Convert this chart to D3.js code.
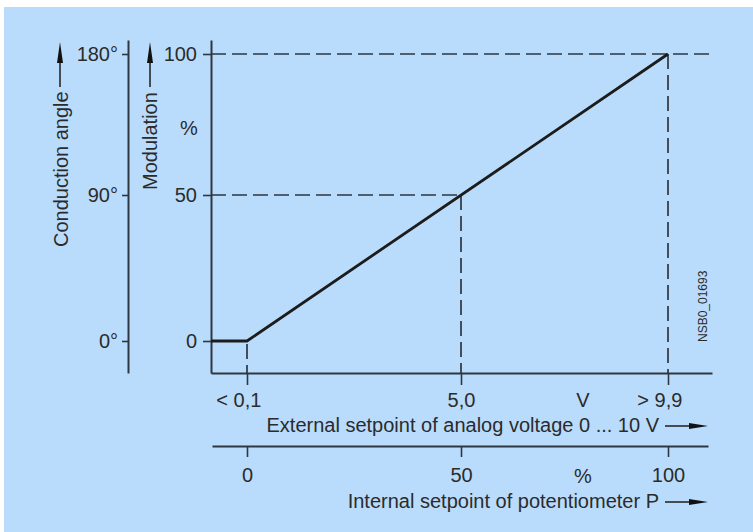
<!DOCTYPE html>
<html>
<head>
<meta charset="utf-8">
<script src="https://cdn.jsdelivr.net/npm/d3@7"></script>
<style>
  html, body { margin: 0; padding: 0; background: #ffffff; }
  svg { display: block; }
  text { font-family: "Liberation Sans", Arial, Helvetica, sans-serif; fill: #2b2b2b; }
</style>
</head>
<body>
<svg id="chart" width="753" height="532"></svg>
<script>
// ---- data ----
const potTicks = [0, 50, 100];                        // internal setpoint (%)
const potLabels = ["0", "50", "100"];
const voltTicks = [0, 50, 100];                       // same positions, voltage labels
const voltPrefix = ["< ", "", "> "];
const voltNumbers = ["0,1", "5,0", "9,9"];
const modTicks = [0, 50, 100];                        // modulation (%)
const angleTicks = [0, 90, 180];                      // conduction angle (deg)
const angleLabels = ["0°", "90°", "180°"];
const curveSetpoint = [-8.5, 0, 100];                 // characteristic: setpoint %
const curveModulation = [0, 0, 100];                  // characteristic: modulation %
const refLevels = [50, 100];                          // dashed guide levels

// ---- layout ----
const svg = d3.select("#chart");
const ink = "#2e3640";
svg.append("rect").attr("x", 4).attr("y", 7).attr("width", 749).attr("height", 525).attr("fill", "#badcfc");

const x = d3.scaleLinear().domain([-8.5, 0, 50, 100, 110.5]).range([211, 247, 461, 668, 712]);
const y = d3.scaleLinear().domain([-11, 0, 50, 100, 105]).range([373, 341, 195, 54, 40]);
const yAng = d3.scaleLinear().domain([-19.8, 0, 90, 180, 189]).range([373, 341, 195, 54, 40]);

function styleAxis(g, w) {
  g.attr("font-size", null).attr("font-family", null);
  g.selectAll(".domain").attr("stroke", ink).attr("stroke-width", w);
  g.selectAll(".tick line").attr("stroke", ink).attr("stroke-width", 1.6);
  g.selectAll(".tick text").style("font-size", "20px").attr("fill", "#2b2b2b");
}

// dashed guides
const dash = "15,6";
const guides = svg.append("g").attr("stroke", ink).attr("stroke-width", 1.7).attr("stroke-dasharray", dash).attr("fill", "none");
guides.append("line").attr("x1", x(-8.5)).attr("x2", 710).attr("y1", y(100)).attr("y2", y(100));
guides.append("line").attr("x1", x(-8.5)).attr("x2", x(50)).attr("y1", y(50)).attr("y2", y(50));
potTicks.forEach(v => {
  const m = v === 0 ? 0 : v;
  guides.append("line").attr("x1", x(v)).attr("x2", x(v)).attr("y1", y(m) + (v === 0 ? 3 : 0)).attr("y2", y(-11));
});

// left angle axis
const gAng = svg.append("g").attr("transform", "translate(128,0)")
  .call(d3.axisLeft(yAng).tickValues(angleTicks).tickSize(6).tickSizeOuter(0).tickPadding(4)
    .tickFormat((d, i) => angleLabels[i]));
styleAxis(gAng, 2);

// modulation axis
const gMod = svg.append("g").attr("transform", "translate(211,0)")
  .call(d3.axisLeft(y).tickValues(modTicks).tickSize(8).tickSizeOuter(0).tickPadding(6));
styleAxis(gMod, 2);

// voltage axis (bottom 1)
const gV = svg.append("g").attr("transform", "translate(0,373)")
  .call(d3.axisBottom(x).tickValues(voltTicks).tickSize(12).tickSizeOuter(0).tickPadding(8)
    .tickFormat((d, i) => voltPrefix[i] + voltNumbers[i]));
styleAxis(gV, 2);
gV.selectAll(".tick text").each(function(d, i) {
  const t = d3.select(this);
  const tmp = svg.append("text").style("font-size", "20px").text(voltNumbers[i]);
  const w = tmp.node().getComputedTextLength();
  tmp.remove();
  t.attr("text-anchor", "end").attr("dx", w / 2);
});

// potentiometer axis (bottom 2)
const gP = svg.append("g").attr("transform", "translate(0,446)")
  .call(d3.axisBottom(x.copy().range([212, 247, 461, 668, 708])).tickValues(potTicks).tickSize(11).tickSizeOuter(0).tickPadding(11)
    .tickFormat((d, i) => potLabels[i]));
styleAxis(gP, 2);

// characteristic curve
const curve = d3.line().x(d => x(d[0])).y(d => y(d[1]));
svg.append("path").datum(curveSetpoint.map((s, i) => [s, curveModulation[i]]))
  .attr("d", curve).attr("fill", "none").attr("stroke", "#1c1c1c").attr("stroke-width", 2.8)
  .attr("stroke-linejoin", "miter");

// unit labels
svg.append("text").attr("x", 583).attr("y", 407).attr("text-anchor", "middle").style("font-size", "20px").text("V");
svg.append("text").attr("x", 583).attr("y", 483).attr("text-anchor", "middle").style("font-size", "20px").text("%");
svg.append("text").attr("x", 189).attr("y", 135).attr("text-anchor", "middle").style("font-size", "20px").text("%");

// axis titles
svg.append("text").attr("x", 659).attr("y", 432).attr("text-anchor", "end").style("font-size", "20px")
  .text("External setpoint of analog voltage 0 ... 10 V");
svg.append("text").attr("x", 659).attr("y", 508).attr("text-anchor", "end").style("font-size", "20px")
  .text("Internal setpoint of potentiometer P");
svg.append("text").attr("transform", "translate(68,247) rotate(-90)").attr("text-anchor", "start").style("font-size", "20px")
  .text("Conduction angle");
svg.append("text").attr("transform", "translate(157,190) rotate(-90)").attr("text-anchor", "start").style("font-size", "20px")
  .text("Modulation");
svg.append("text").attr("transform", "translate(707,342) rotate(-90)").attr("text-anchor", "start").style("font-size", "12px")
  .text("NSB0_01693");

// arrows
function hArrow(x1, x2, yy) {
  svg.append("line").attr("x1", x1).attr("x2", x2 - 16).attr("y1", yy).attr("y2", yy).attr("stroke", "#1c1c1c").attr("stroke-width", 1.5);
  svg.append("path").attr("d", `M${x2 - 19},${yy - 3}L${x2},${yy}L${x2 - 19},${yy + 3}Z`).attr("fill", "#111");
}
function vArrow(xx, y1, y2) {
  svg.append("line").attr("x1", xx).attr("x2", xx).attr("y1", y1).attr("y2", y2 + 18).attr("stroke", "#1c1c1c").attr("stroke-width", 1.5);
  svg.append("path").attr("d", `M${xx - 3},${y2 + 21}L${xx},${y2}L${xx + 3},${y2 + 21}Z`).attr("fill", "#111");
}
hArrow(665, 708, 426);
hArrow(665, 708, 502);
vArrow(60, 87, 42);
vArrow(150, 87, 42);
</script>
</body>
</html>
